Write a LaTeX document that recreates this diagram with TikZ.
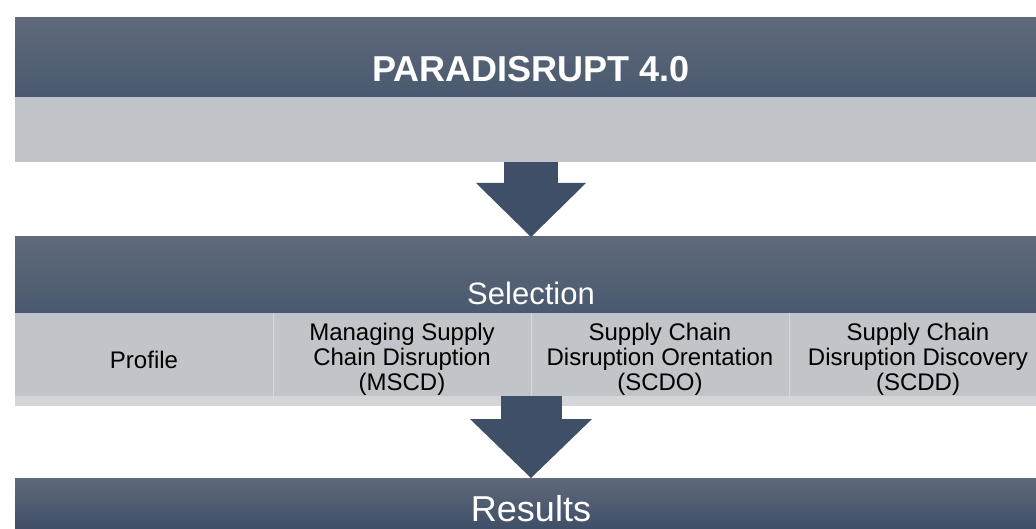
\documentclass[tikz,border=0pt]{standalone}
\usepackage{fontspec}
\setmainfont{Liberation Sans}
\usetikzlibrary{positioning,arrows.meta}

\definecolor{barTop}{HTML}{5F6A7B}
\definecolor{barBottom}{HTML}{4A596F}
\definecolor{resBottom}{HTML}{3F4E67}
\definecolor{bandGray}{HTML}{C1C4C9}
\definecolor{stripGray}{HTML}{D3D5D9}
\definecolor{arrowBlue}{HTML}{3F4F68}
\definecolor{lineGray}{HTML}{D6D8DC}

\begin{document}
\begin{tikzpicture}[x=1pt,y=1pt,
  bar/.style={rectangle,inner sep=0pt,outer sep=0pt,minimum width=1032pt,top color=barTop,bottom color=barBottom},
  band/.style={rectangle,inner sep=0pt,outer sep=0pt,minimum width=1032pt,fill=bandGray},
  cell/.style={rectangle,inner sep=0pt,outer sep=0pt,fill=bandGray,minimum width=258pt,minimum height=93pt,align=center,font=\fontsize{24}{25}\selectfont},
  heading/.style={text=white,anchor=base,inner sep=0pt},
  flow/.style={arrowBlue,line width=#1}]
  \useasboundingbox (0,0) rectangle (1036,-529);
  \clip (0,0) rectangle (1036,-529);

  % top block
  \node [bar,minimum height=79pt] (para_bar) at (531,-57.5) {};
  \node [band,minimum height=65pt,below=0pt of para_bar] (para_band) {};
  \node [heading,font=\bfseries\fontsize{36}{40}\selectfont] (para_text) at (531,-82) {PARADISRUPT 4.0};

  % selection block
  \node [bar,minimum height=76pt] (sel_bar) at (531,-275) {};
  \node [heading,font=\fontsize{31}{36}\selectfont] (sel_text) at (531,-305) {Selection};
  \node [cell] (profile) at (144,-359.5) {Profile};
  \node [cell,right=0pt of profile] (mscd) {Managing Supply\\Chain Disruption\\(MSCD)};
  \node [cell,right=0pt of mscd] (scdo) {Supply Chain\\Disruption Orentation\\(SCDO)};
  \node [cell,right=0pt of scdo] (scdd) {Supply Chain\\Disruption Discovery\\(SCDD)};
  \node [band,fill=stripGray,minimum height=10pt,anchor=south] (sel_strip) at (mscd.south east) {};
  \draw [lineGray] (profile.north east) -- (profile.south east);
  \draw [lineGray] (mscd.north east) -- (mscd.south east);
  \draw [lineGray] (scdo.north east) -- (scdo.south east);

  % results block
  \node [bar,minimum height=51pt,bottom color=resBottom] (res_bar) at (531,-503.5) {};
  \node [heading,font=\fontsize{36}{40}\selectfont] (res_text) at (531,-521) {Results};

  \draw [flow=54pt,-{Triangle[length=54pt,width=110pt,line width=0pt]}] (para_band.south) -- (sel_bar.north);
  \draw [flow=61pt,-{Triangle[length=59pt,width=122pt,line width=0pt]}] (sel_strip.north) -- (res_bar.north);
\end{tikzpicture}
\end{document}
